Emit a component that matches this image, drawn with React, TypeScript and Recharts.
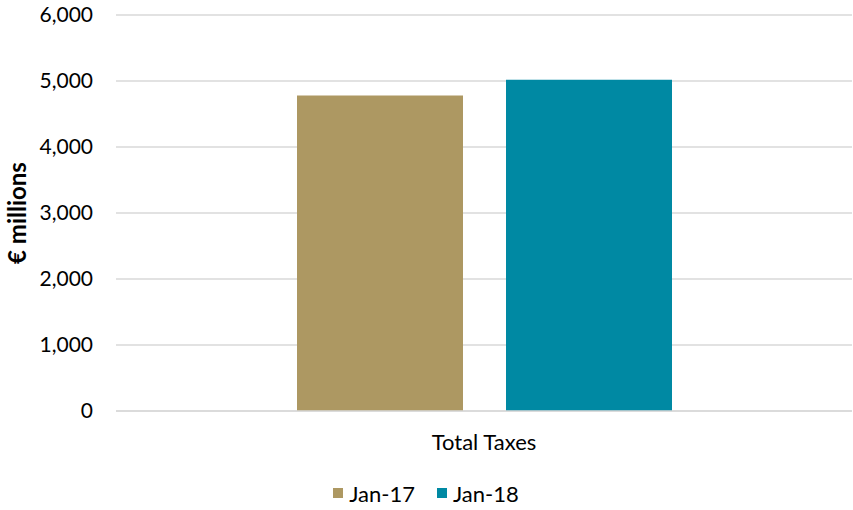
import { BarChart, Bar, XAxis, YAxis, CartesianGrid, Legend } from 'recharts'

const categories = ['Total Taxes']
const jan17 = [4780]
const jan18 = [5020]
const yTicks = [0, 1000, 2000, 3000, 4000, 5000, 6000]

const SERIES = [
  { key: 'jan17', name: 'Jan-17', color: '#AD9862' },
  { key: 'jan18', name: 'Jan-18', color: '#0089A3' },
]

const FONT = 'Lato, Carlito, Calibri, sans-serif'

const data = categories.map((c, i) => ({ name: c, jan17: jan17[i], jan18: jan18[i] }))

function LegendContent() {
  return (
    <div style={{ display: 'flex', justifyContent: 'center', alignItems: 'center', height: 28, fontFamily: FONT, fontSize: 22, color: '#000' }}>
      {SERIES.map((s) => (
        <span key={s.key} style={{ display: 'flex', alignItems: 'center', margin: '0 11px' }}>
          <span style={{ width: 10, height: 10, background: s.color, display: 'inline-block', marginRight: 6 }} />
          {s.name}
        </span>
      ))}
    </div>
  )
}

export default function App() {
  return (
    <div style={{ position: 'absolute', left: 0, top: 0, background: '#fff' }}>
      <BarChart
        width={853}
        height={510}
        data={data}
        margin={{ top: 15, right: 1, left: 0, bottom: 3 }}
        barSize={166}
        barGap={43}
      >
        <CartesianGrid vertical={false} stroke="#d9d9d9" strokeWidth={1.5} />
        <XAxis
          dataKey="name"
          height={68}
          tickLine={false}
          axisLine={{ stroke: '#d9d9d9', strokeWidth: 1.5 }}
          tickMargin={17}
          tick={{ fill: '#000', fontSize: 22, fontFamily: FONT }}
        />
        <YAxis
          width={116}
          domain={[0, 6000]}
          ticks={yTicks}
          interval={0}
          axisLine={false}
          tickLine={false}
          tickMargin={17}
          tickFormatter={(v: number) => v.toLocaleString('en-US')}
          tick={{ fill: '#000', fontSize: 21, fontFamily: FONT }}
          label={{
            value: '€ millions',
            content: ({ viewBox }: any) => {
              const cy = viewBox.y + viewBox.height / 2
              return (
                <text
                  x={16}
                  y={cy}
                  transform={`rotate(-90, 16, ${cy})`}
                  textAnchor="middle"
                  dominantBaseline="central"
                  fontFamily={FONT}
                  fontWeight="bold"
                  fontSize={24}
                  fill="#000"
                >
                  € millions
                </text>
              )
            },
          }}
        />
        <Legend verticalAlign="bottom" height={28} content={<LegendContent />} />
        {SERIES.map((s) => (
          <Bar key={s.key} dataKey={s.key} name={s.name} fill={s.color} isAnimationActive={false} />
        ))}
      </BarChart>
    </div>
  )
}
